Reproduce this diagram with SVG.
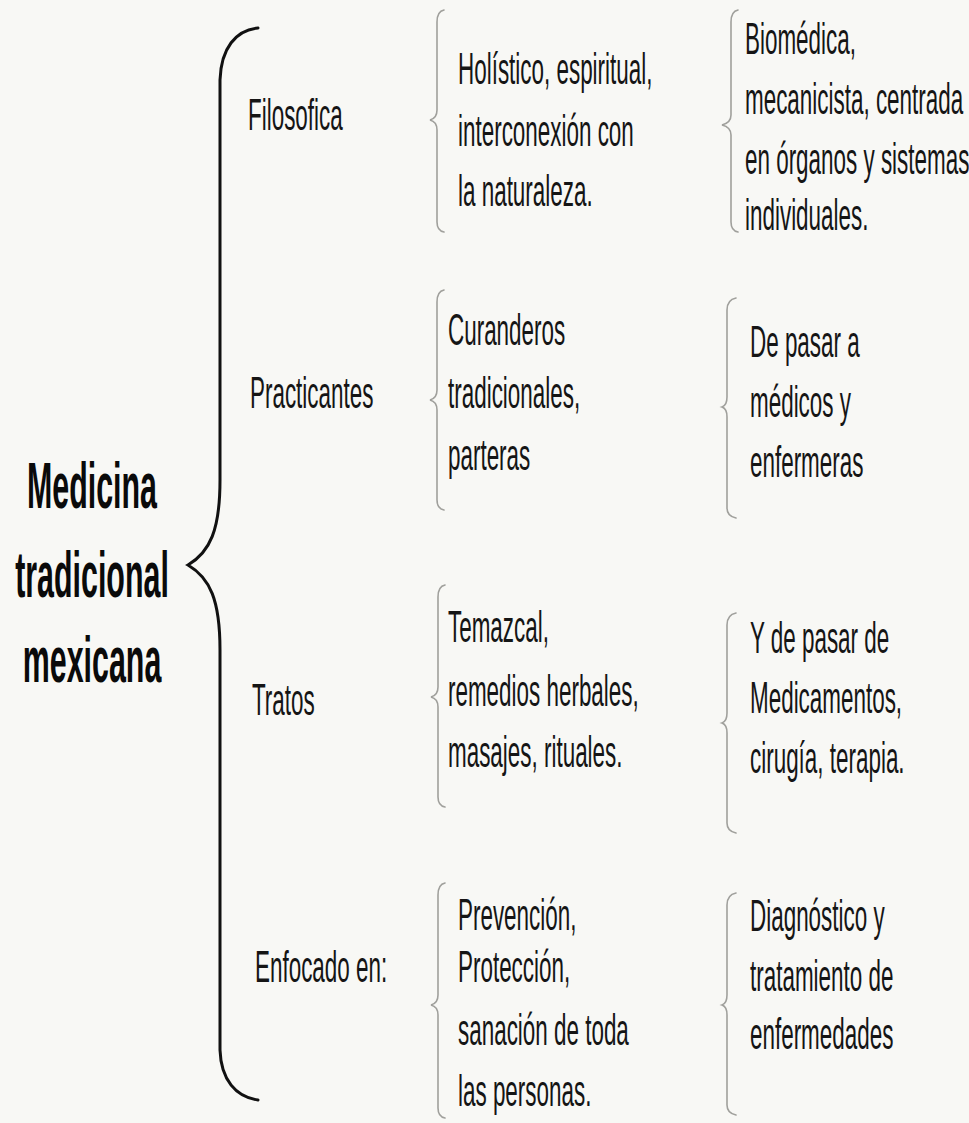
<svg xmlns="http://www.w3.org/2000/svg" width="969" height="1123" viewBox="0 0 969 1123">
<style>
.t{font-family:"Liberation Sans",Arial,sans-serif;font-size:44px;fill:#151515}
.h{font-family:"Liberation Sans",Arial,sans-serif;font-size:64px;font-weight:bold;fill:#0a0a0a;text-anchor:middle}
.big{fill:none;stroke:#111;stroke-width:3;stroke-linecap:round}
.sm{fill:none;stroke:#a0a09c;stroke-width:1.6;stroke-linecap:round}
</style>
<rect width="969" height="1123" fill="#f8f8f5"/>
<g id="connectors">
<path class="big" d="M258,28 C236,30 221,48 220,80 L220,480 C220,530 210,552 188,565 C210,578 220,600 220,650 L220,1050 C221,1080 236,1097 258,1100"/>
<path class="sm" d="M444,10 C439,11 437,15 437,22 L437,110 C437,116 434,119 430,120 C434,121 437,124 437,130 L437,222 C437,228 439,231 444,232"/>
<path class="sm" d="M738,10 C733,11 731,15 731,22 L731,115 C731,121 726,124 722,125 C726,126 731,129 731,135 L731,222 C731,228 733,231 738,232"/>
<path class="sm" d="M444,290 C439,291 437,295 437,302 L437,390 C437,396 434,399 430,400 C434,401 437,404 437,410 L437,500 C437,506 439,509 444,510"/>
<path class="sm" d="M736,298 C731,299 727,303 727,310 L727,397 C727,403 725,406 722,407 C725,408 727,411 727,417 L727,508 C727,514 731,517 736,518"/>
<path class="sm" d="M445,585 C440,586 438,590 438,597 L438,687 C438,693 435,696 431,697 C435,698 438,701 438,707 L438,797 C438,803 440,806 445,807"/>
<path class="sm" d="M736,613 C731,614 727,618 727,625 L727,713 C727,719 725,722 722,723 C725,724 727,727 727,733 L727,823 C727,829 731,832 736,833"/>
<path class="sm" d="M445,883 C440,884 438,888 438,895 L438,995 C438,1001 435,1004 431,1005 C435,1006 438,1009 438,1015 L438,1108 C438,1114 440,1117 445,1118"/>
<path class="sm" d="M736,893 C731,894 727,898 727,905 L727,995 C727,1001 725,1004 722,1005 C725,1006 727,1009 727,1015 L727,1105 C727,1111 731,1114 736,1115"/>
</g>
<g id="root" transform="translate(92,0) scale(0.475,1)">
<text class="h" x="0" y="508">Medicina</text>
<text class="h" x="0" y="597">tradicional</text>
<text class="h" x="0" y="682">mexicana</text>
</g>
<g id="filosofica" transform="translate(248,0) scale(0.51,1)"><text class="t" x="0" y="130">Filosofica</text></g>
<g id="practicantes" transform="translate(250,0) scale(0.51,1)"><text class="t" x="0" y="408">Practicantes</text></g>
<g id="tratos" transform="translate(252,0) scale(0.51,1)"><text class="t" x="0" y="715">Tratos</text></g>
<g id="enfocado" transform="translate(255,0) scale(0.51,1)"><text class="t" x="0" y="982">Enfocado en:</text></g>
<g id="filosofica-tradicional" transform="translate(458,0) scale(0.51,1)">
<text class="t" x="0" y="84">Holístico, espiritual,</text>
<text class="t" x="0" y="146">interconexión con</text>
<text class="t" x="0" y="206">la naturaleza.</text>
</g>
<g id="filosofica-moderna" transform="translate(745,0) scale(0.51,1)">
<text class="t" x="0" y="54">Biomédica,</text>
<text class="t" x="0" y="114">mecanicista, centrada</text>
<text class="t" x="0" y="174">en órganos y sistemas</text>
<text class="t" x="0" y="230">individuales.</text>
</g>
<g id="practicantes-tradicional" transform="translate(448,0) scale(0.51,1)">
<text class="t" x="0" y="345">Curanderos</text>
<text class="t" x="0" y="408">tradicionales,</text>
<text class="t" x="0" y="470">parteras</text>
</g>
<g id="practicantes-moderna" transform="translate(750,0) scale(0.51,1)">
<text class="t" x="0" y="357">De pasar a</text>
<text class="t" x="0" y="417">médicos y</text>
<text class="t" x="0" y="477">enfermeras</text>
</g>
<g id="tratos-tradicional" transform="translate(448,0) scale(0.51,1)">
<text class="t" x="0" y="642">Temazcal,</text>
<text class="t" x="0" y="706">remedios herbales,</text>
<text class="t" x="0" y="767">masajes, rituales.</text>
</g>
<g id="tratos-moderna" transform="translate(750,0) scale(0.51,1)">
<text class="t" x="0" y="653">Y de pasar de</text>
<text class="t" x="0" y="713">Medicamentos,</text>
<text class="t" x="0" y="773">cirugía, terapia.</text>
</g>
<g id="enfocado-tradicional" transform="translate(458,0) scale(0.51,1)">
<text class="t" x="0" y="930">Prevención,</text>
<text class="t" x="0" y="982">Protección,</text>
<text class="t" x="0" y="1045">sanación de toda</text>
<text class="t" x="0" y="1106">las personas.</text>
</g>
<g id="enfocado-moderna" transform="translate(750,0) scale(0.51,1)">
<text class="t" x="0" y="931">Diagnóstico y</text>
<text class="t" x="0" y="991">tratamiento de</text>
<text class="t" x="0" y="1049">enfermedades</text>
</g>
</svg>
